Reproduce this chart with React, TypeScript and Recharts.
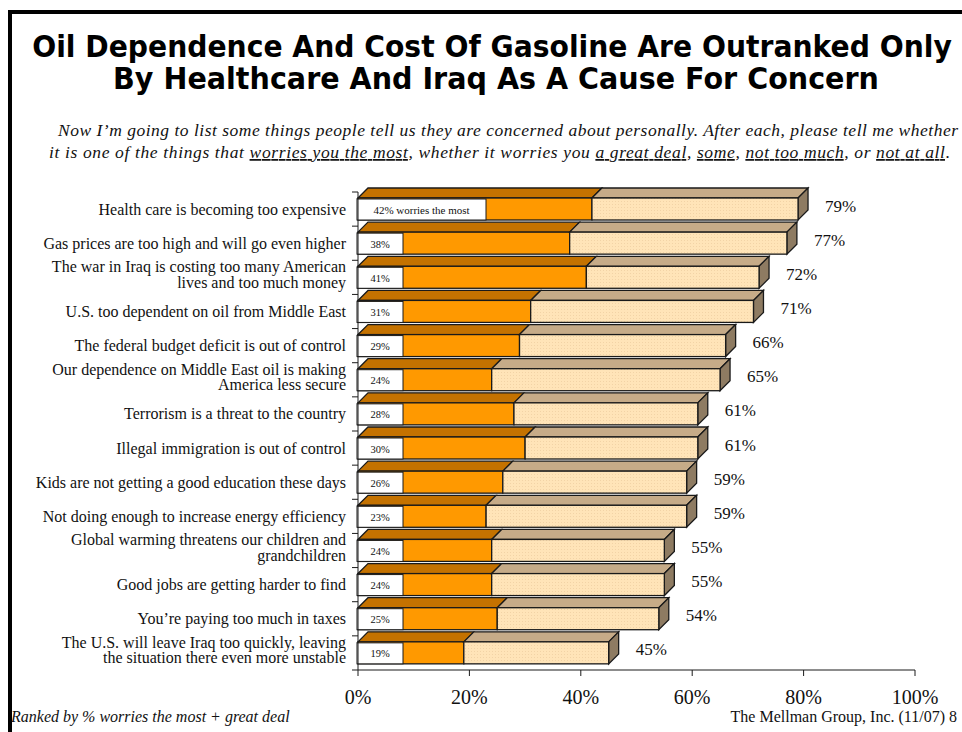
import React, { useLayoutEffect, useRef, useState } from 'react'
import { BarChart, Bar, XAxis, YAxis } from 'recharts'

// rows, top to bottom
const categories = [
  'Health care is becoming too expensive',
  'Gas prices are too high and will go even higher',
  'The war in Iraq is costing too many American\nlives and too much money',
  'U.S. too dependent on oil from Middle East',
  'The federal budget deficit is out of control',
  'Our dependence on Middle East oil is making\nAmerica less secure',
  'Terrorism is a threat to the country',
  'Illegal immigration is out of control',
  'Kids are not getting a good education these days',
  'Not doing enough to increase energy efficiency',
  'Global warming threatens our children and\ngrandchildren',
  'Good jobs are getting harder to find',
  'You\u2019re paying too much in taxes',
  'The U.S. will leave Iraq too quickly, leaving\nthe situation there even more unstable',
]

// % worries the most
const worriesMost = [42, 38, 41, 31, 29, 24, 28, 30, 26, 23, 24, 24, 25, 19]
// % worries the most + great deal
const mostPlusGreatDeal = [79, 77, 72, 71, 66, 65, 61, 61, 59, 59, 55, 55, 54, 45]

const xTicks = [0, 20, 40, 60, 80, 100]

const data = categories.map((name, i) => ({
  name,
  most: worriesMost[i],
  great: mostPlusGreatDeal[i] - worriesMost[i],
  total: mostPlusGreatDeal[i],
}))

const W = 962
const H = 732
const TOP = 192
const BOTTOM = 62
const AXIS_X = 358
const PLOT_H = H - TOP - BOTTOM
const ROW_H = PLOT_H / categories.length
const DEPTH = 10

const SERIF = '"Liberation Serif", "Times New Roman", serif'
const SANS = '"DejaVu Sans", Verdana, sans-serif'
const STROKE = '#1a1a1a'

const ORANGE = '#FF9900'
const ORANGE_TOP = '#C47200'
const PEACH = '#FFE4B8'
const PEACH_TOP = '#C6AB88'
const SIDE = '#8E7B62'

const MostShape = (props: any) => {
  const { x, y, width, height, index, payload } = props
  const boxW = index === 0 ? 129 : 46
  const label = index === 0 ? `${payload.most}% worries the most` : `${payload.most}%`
  return (
    <g>
      <path
        d={`M${x},${y} L${x + DEPTH},${y - DEPTH} L${x + width + DEPTH},${y - DEPTH} L${x + width},${y} Z`}
        fill={ORANGE_TOP}
        stroke={STROKE}
        strokeWidth={1.3}
      />
      <rect x={x} y={y} width={width} height={height} fill={ORANGE} stroke={STROKE} strokeWidth={1.3} />
      <rect x={x - 1} y={y + 1} width={boxW} height={height - 1} fill="#fff" stroke={STROKE} strokeWidth={1} />
      <text
        x={x - 1 + boxW / 2}
        y={y + height / 2 + 1}
        textAnchor="middle"
        dominantBaseline="central"
        fontFamily={SERIF}
        fontSize={index === 0 ? 11 : 10.5}
        fill="#111"
      >
        {label}
      </text>
    </g>
  )
}

const GreatShape = (props: any) => {
  const { x, y, width, height, payload } = props
  const r = x + width
  return (
    <g>
      <path
        d={`M${x},${y} L${x + DEPTH},${y - DEPTH} L${r + DEPTH},${y - DEPTH} L${r},${y} Z`}
        fill={PEACH_TOP}
        stroke={STROKE}
        strokeWidth={1.3}
      />
      <path
        d={`M${r},${y} L${r + DEPTH},${y - DEPTH} L${r + DEPTH},${y + height - DEPTH} L${r},${y + height} Z`}
        fill={SIDE}
        stroke={STROKE}
        strokeWidth={1.3}
      />
      <rect x={x} y={y} width={width} height={height} fill="url(#peachDots)" stroke={STROKE} strokeWidth={1.3} />
      <text
        x={r + 27}
        y={y + height / 2 - 3}
        dominantBaseline="central"
        fontFamily={SERIF}
        fontSize={17}
        fill="#111"
      >
        {`${payload.total}%`}
      </text>
    </g>
  )
}

const CategoryTick = (props: any) => {
  const { x, y, payload, index } = props
  const lines = String(payload.value).split('\n')
  const lh = 15.5
  const startY = y - ((lines.length - 1) * lh) / 2 - (lines.length > 1 ? 3 : 0)
  return (
    <g>
      <line x1={x - 6} y1={y - ROW_H / 2} x2={x} y2={y - ROW_H / 2} stroke={STROKE} />
      {index === categories.length - 1 && (
        <line x1={x - 6} y1={y + ROW_H / 2} x2={x} y2={y + ROW_H / 2} stroke={STROKE} />
      )}
      <text textAnchor="end" fontFamily={SERIF} fontSize={16} fill="#111">
        {lines.map((l, i) => (
          <tspan key={i} x={x - 12} y={startY + i * lh} dominantBaseline="central">
            {l}
          </tspan>
        ))}
      </text>
    </g>
  )
}

// bold condensed title line: squeezed horizontally to a given width
const TitleLine = ({ cx, y, width, text }: { cx: number; y: number; width: number; text: string }) => {
  const ref = useRef<SVGTextElement>(null)
  const [sx, setSx] = useState(0.88)
  useLayoutEffect(() => {
    if (ref.current) {
      const w = ref.current.getComputedTextLength()
      if (w > 0) setSx(width / w)
    }
  }, [width, text])
  return (
    <text
      ref={ref}
      transform={`translate(${cx},${y}) scale(${sx},1)`}
      textAnchor="middle"
      fontFamily={SANS}
      fontWeight="bold"
      fontSize={30}
      fill="#000"
    >
      {text}
    </text>
  )
}

export default function App() {
  return (
    <div style={{ position: 'absolute', left: 0, top: 0, width: W, height: H, background: '#fff' }}>
      <BarChart
        width={W}
        height={H}
        data={data}
        layout="vertical"
        margin={{ top: TOP, right: W - 915, bottom: BOTTOM - 40, left: 0 }}
        barSize={22}
      >
        <defs>
          <pattern id="peachDots" width="3" height="3" patternUnits="userSpaceOnUse">
            <rect width="3" height="3" fill={PEACH} />
            <rect width="1" height="1" fill="#F2D3A6" />
          </pattern>
        </defs>
        <XAxis
          type="number"
          domain={[0, 100]}
          ticks={xTicks}
          tickFormatter={(v) => `${v}%`}
          height={40}
          axisLine={{ stroke: STROKE }}
          tickLine={{ stroke: STROKE }}
          tickSize={6}
          tickMargin={14}
          tick={{ fontFamily: SERIF, fontSize: 20, fill: '#111' }}
        />
        <YAxis
          type="category"
          dataKey="name"
          width={AXIS_X}
          interval={0}
          axisLine={{ stroke: STROKE }}
          tickLine={false}
          tickSize={0}
          tickMargin={0}
          tick={<CategoryTick />}
        />
        <Bar dataKey="most" stackId="a" isAnimationActive={false} shape={<MostShape />} />
        <Bar dataKey="great" stackId="a" isAnimationActive={false} shape={<GreatShape />} />
      </BarChart>
      <svg
        width={W}
        height={H}
        style={{ position: 'absolute', left: 0, top: 0, pointerEvents: 'none' }}
      >
        <path d={`M10,${H} L10,12 L${W},12`} fill="none" stroke="#000" strokeWidth={4} />
        <TitleLine cx={492} y={57} width={920} text="Oil Dependence And Cost Of Gasoline Are Outranked Only" />
        <TitleLine cx={496} y={89} width={766} text="By Healthcare And Iraq As A Cause For Concern" />
        <text x={58} y={136} textLength={900} fontFamily={SERIF} fontStyle="italic" fontSize={17.5} fill="#111">
          {'Now I\u2019m going to list some things people tell us they are concerned about personally.  After each, please tell me whether'}
        </text>
        <text x={49} y={158} textLength={901} fontFamily={SERIF} fontStyle="italic" fontSize={17.5} fill="#111">
          <tspan>it is one of the things that </tspan>
          <tspan style={{ textDecoration: 'underline' }}>worries you the most</tspan>
          <tspan>, whether it worries you </tspan>
          <tspan style={{ textDecoration: 'underline' }}>a great deal</tspan>
          <tspan>, </tspan>
          <tspan style={{ textDecoration: 'underline' }}>some</tspan>
          <tspan>, </tspan>
          <tspan style={{ textDecoration: 'underline' }}>not too much</tspan>
          <tspan>, or </tspan>
          <tspan style={{ textDecoration: 'underline' }}>not at all</tspan>
          <tspan>.</tspan>
        </text>
        <text x={11} y={722} fontFamily={SERIF} fontStyle="italic" fontSize={16} fill="#111">
          Ranked by % worries the most + great deal
        </text>
        <text x={957} y={722} textAnchor="end" fontFamily={SERIF} fontSize={16} fill="#111">
          The Mellman Group, Inc. (11/07) 8
        </text>
      </svg>
    </div>
  )
}
